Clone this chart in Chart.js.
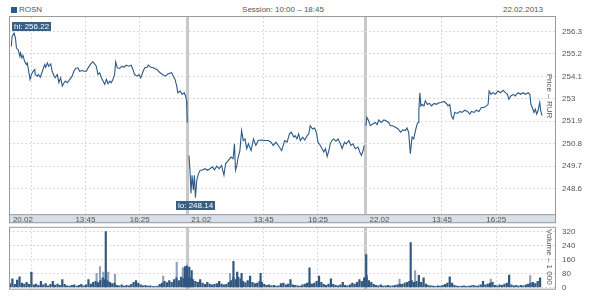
<!DOCTYPE html>
<html lang="ru">
<head>
<meta charset="utf-8">
<title>ROSN</title>
<script src="https://cdn.jsdelivr.net/npm/chart.js@4.4.1/dist/chart.umd.min.js"></script>
<style>
  html, body { margin: 0; padding: 0; background: #fff; }
  #wrap { position: relative; width: 600px; height: 301px; overflow: hidden;
          font-family: Arial, "Liberation Sans", sans-serif; color: #555; }
  .hdr  { position: absolute; top: 5px; font-size: 8px; line-height: 10px; white-space: nowrap; }
  #leg-box { position: absolute; left: 11px; top: 7px; width: 6px; height: 6px; background: #2e5a87; }
  #c-price { position: absolute; left: 0; top: 0; }
  #c-vol   { position: absolute; left: 0; top: 216px; }
</style>
</head>
<body>
<div id="wrap">
  <div id="leg-box"></div>
  <div class="hdr" style="left:19px">ROSN</div>
  <div class="hdr" style="left:0;width:566px;text-align:center">Session: 10:00 – 18:45</div>
  <div class="hdr" style="right:57px">22.02.2013</div>
  <canvas id="c-price" width="600" height="226"></canvas>
  <canvas id="c-vol" width="600" height="85"></canvas>
</div>
<script>
// ── Données ──────────────────────────────────────────────────────────────────
// minutes après 10:00 pour chaque séance (10:00 → 18:45 = 525 min)
const SESSION = 525;
const days = ["20.02", "21.02", "22.02"];

const d1Min = [7,9,15,19,22,27,32,34,38,41, 46,51,54,58,62,66,71,76,77,83, 87,92,95,100,105,108,113,117,123,127,
  133,136,142,147,152,157,162,166,172,179, 186,191,196,203,208,215,221,228,233,241, 247,252,257,262,267,272,277,282,287,292,
  297,301,306,311,314,319,326,333,339,345, 353,360,365,370,377,383,388,395,400,407, 410,418,425,435,445,452,460,469,479,484,
  489,494,497,504,510,516,520,523,524,525];
const d1Px = [255.57,256.06,256.22,255.98,255.49,255.41,255.08,255.25,255.01,255.13,
  254.84,254.68,254.76,254.35,253.95,254.19,254.35,254.44,254.19,254.11,
  254.19,254.06,254.19,254.44,254.68,254.55,254.76,254.60,254.71,254.35,
  254.11,254.03,254.19,253.79,254.03,253.62,253.79,253.87,253.79,253.95,
  254.11,254.35,254.49,254.52,254.35,254.39,254.35,254.35,254.52,254.71,
  254.81,254.71,254.60,254.19,254.28,254.03,253.87,253.71,253.95,253.74,
  253.87,253.79,253.95,254.19,254.81,254.52,254.49,254.60,254.55,254.65,
  254.60,254.65,254.44,254.19,254.11,254.19,254.03,254.35,254.52,254.55,
  254.65,254.55,254.52,254.44,254.28,254.19,254.11,254.23,254.28,254.11,
  253.95,253.62,253.30,253.38,253.22,253.30,253.14,252.90,252.41,251.84];

const d2Min = [5,8,11,14,18,21,24,28,33,38, 44,52,60,67,74,80,87,94,101,108, 113,121,129,135,139,142,146,150,155,160,
  165,170,175,180,188,195,202,209,219,229, 239,247,253,261,268,278,287,294,301,306, 314,318,323,328,333,340,346,353,358,362,
  369,375,380,385,392,397,402,407,412,417, 421,426,431,438,444,451,456,463,468,476, 482,488,495,503,508,513,518,521];
const d2Px = [250.22,249.49,248.36,249.25,248.52,249.25,248.14,249.00,249.33,249.49,
  249.49,249.57,249.49,249.57,249.66,249.52,249.69,249.57,249.73,249.25,
  249.82,249.98,250.14,250.06,250.79,249.49,249.73,250.14,250.46,251.44,
  250.95,251.03,250.55,250.79,250.46,251.03,250.71,250.95,250.98,250.95,
  250.95,250.87,250.71,250.87,250.71,250.46,250.95,250.87,251.28,251.36,
  251.12,251.19,251.03,251.28,250.95,251.12,250.98,251.19,251.28,251.68,
  251.52,251.57,251.36,250.87,250.71,250.55,250.39,250.55,250.17,250.46,
  250.79,250.95,251.03,250.92,251.03,250.79,250.55,250.87,250.79,250.95,
  250.71,250.79,250.55,250.63,250.39,250.22,250.46,250.71];

const d3Min = [1,4,9,14,21,29,34,39,46,54, 60,68,73,80,88,96,103,110,117,122, 127,132,137,142,147,152,155,157,160,163,
  166,172,176,182,189,194,202,209,216,223, 231,238,243,248,253,258,263,271,278,284, 292,300,307,312,320,326,334,341,349,356,
  361,364,369,376,382,390,398,405,412,418, 422,428,435,441,449,457,464,471,479,484, 487,491,496,500,504,508,513,516,520];
const d3Px = [251.68,252.09,251.92,251.68,251.76,251.84,251.73,251.96,251.84,251.96,
  251.92,251.84,251.68,251.68,251.60,251.52,251.36,251.47,251.44,251.57,
  251.36,250.30,251.12,251.03,251.44,251.76,251.84,252.41,253.30,252.65,
  252.73,252.65,252.90,252.73,252.77,252.65,252.77,252.73,252.80,252.82,
  252.87,252.77,252.65,252.73,252.17,252.01,252.33,252.28,252.38,252.33,
  252.44,252.38,252.25,252.38,252.33,252.44,252.38,252.57,252.57,252.65,
  252.73,253.38,253.22,253.30,253.22,253.38,253.30,253.42,253.30,253.22,
  252.98,253.14,253.22,253.14,253.30,253.22,253.30,253.22,253.30,253.22,
  252.73,252.57,252.33,252.49,252.25,252.41,252.82,252.41,252.17];

// volume (milliers), une barre toutes les 7 minutes
const VOL_STEP = 7;
const d1Vol = [22,50,18,42,62,25,20,30,18,88, 15,20,12,35,15,22,10,18,35,14, 20,12,45,18,10,8,12,15,8,12,
  18,10,15,46,20,30,35,28,40,55, 45,38,30,22,25,12,10,15,8,12, 10,18,30,40,25,15,10,12,8,10,
  6,5,8,18,25,35,28,40,30,45, 55,40,60,50,65];
const d2Vol = [60,55,45,35,30,45,25,18,30,20, 15,18,22,35,20,15,18,30,40,55, 45,60,50,35,28,40,65,30,22,25,
  35,30,18,12,15,10,12,8,10,22, 25,15,20,45,15,12,10,8,15,20, 25,30,20,25,35,65,30,18,12,20,
  50,18,12,10,15,30,12,10,15,25, 20,30,45,35,55];
const d3Vol = [60,40,30,18,12,10,15,8,10,12, 8,10,12,15,20,18,25,30,35,40, 30,35,70,30,55,20,12,10,8,6,
  10,8,12,18,25,62,25,12,8,6, 8,10,6,8,10,12,8,10,15,35, 15,20,25,30,12,10,15,12,20,25,
  72,15,10,12,8,12,10,15,20,25, 30,22,35,55];
// pics de volume : [séance, minute, volume]
const volPeaksDark = [[0,285,322],[0,518,121],[0,524,125],[1,6,118],[1,13,97],[1,136,150],[1,147,89],
  [1,160,81],[1,216,81],[1,360,113],[2,2,189],[2,133,259]];
const volPeaksLight = [[0,258,81],[0,268,121],[0,278,89],[0,292,89],[0,312,76],[0,454,65],[0,494,146],
  [0,512,113],[1,126,82],[2,4,73],[2,100,48],[2,146,97],[2,369,48],[2,485,68]];

const priceTicks = [248.6, 249.7, 250.8, 251.9, 253, 254.1, 255.2, 256.3];
const volTicks   = [0, 80, 160, 240, 320];
const timeTicks  = [225, 385];          // 13:45, 16:25
const extraGrid  = [65];                // ligne seule sur la 1re séance

// ── Construction ─────────────────────────────────────────────────────────────
const LINE  = "#2e5a87";
const DARK  = "#2f5780";
const LIGHT = "#8da3bd";
const FRAME = "#9a9a9a";
const GRID  = "#dadada";
const SEP   = "#c8c8c8";

const toX = (d, m) => d * SESSION + m;
const fmtTime = m => `${10 + Math.floor(m / 60)}:${String(m % 60).padStart(2, "0")}`;

const pricePoints = [];
[[d1Min, d1Px], [d2Min, d2Px], [d3Min, d3Px]].forEach(([mins, px], d) => {
  mins.forEach((m, i) => pricePoints.push({ x: toX(d, m), y: px[i] }));
  if (d < 2) pricePoints.push({ x: toX(d, SESSION) + 1, y: null });
});

const volBase = [d1Vol, d2Vol, d3Vol].flatMap((arr, d) =>
  arr.map((v, k) => ({ x: toX(d, k * VOL_STEP + 3), y: v })));
const peaks = list => list.map(([d, m, v]) => ({ x: toX(d, m), y: v }));

const xTicks = [];
days.forEach((lbl, d) => {
  if (d > 0) xTicks.push({ value: toX(d, 0), label: "", kind: "sep" });
  xTicks.push({ value: toX(d, 41), label: lbl, kind: "date" });
  if (d === 0) extraGrid.forEach(m => xTicks.push({ value: m, label: "", kind: "grid" }));
  timeTicks.forEach(m => xTicks.push({ value: toX(d, m), label: fmtTime(m), kind: "grid" }));
});
xTicks.sort((a, b) => a.value - b.value);
const kindOf = v => (xTicks.find(t => t.value === v) || {}).kind;

const X_MAX = 1608;

Chart.defaults.font.family = 'Arial, "Liberation Sans", sans-serif';
Chart.defaults.font.size = 8;
Chart.defaults.color = "#555";

const xScale = (showLabels) => ({
  type: "linear",
  min: 0,
  max: X_MAX,
  offset: false,
  afterBuildTicks: ax => { ax.ticks = xTicks.map(t => ({ value: t.value })); },
  afterFit: ax => { ax.height = showLabels ? 9 : 0; },
  ticks: {
    display: showLabels, autoSkip: false, maxRotation: 0, minRotation: 0, padding: 1,
    callback: (v, i) => (xTicks[i] ? xTicks[i].label : ""),
  },
  grid: {
    offset: false,
    drawTicks: false,
    color: c => {
      const k = c.tick && kindOf(c.tick.value);
      return k === "sep" ? SEP : k === "grid" ? GRID : "rgba(0,0,0,0)";
    },
    lineWidth: c => (c.tick && kindOf(c.tick.value) === "sep" ? 3 : 1),
  },
  border: { display: false, dash: c => (c.tick && kindOf(c.tick.value) === "sep" ? [] : [2, 2]) },
});

const yScale = (ticks, min, max) => ({
  type: "linear",
  position: "right",
  min, max,
  afterBuildTicks: ax => { ax.ticks = ticks.map(v => ({ value: v })); },
  afterFit: ax => { ax.width = 45; },
  ticks: { padding: 7, callback: v => String(v) },
  grid: { drawTicks: false, color: GRID },
  border: { display: false, dash: [2, 2] },
});

function sideTitle(text, dy) {
  return {
    id: "sideTitle",
    afterDraw(chart) {
      const { ctx, chartArea: a } = chart;
      ctx.save();
      ctx.translate(a.right - 6, a.top + dy);
      ctx.rotate(Math.PI / 2);
      ctx.font = '8px Arial, "Liberation Sans", sans-serif';
      ctx.fillStyle = "#555";
      ctx.textAlign = "center";
      ctx.textBaseline = "middle";
      ctx.fillText(text, 0, 0);
      ctx.restore();
    },
  };
}

const priceFrame = {
  id: "priceFrame",
  beforeDraw(chart) {
    const { ctx, chartArea: a } = chart;
    ctx.save();
    ctx.fillStyle = "#d7dfe8";
    ctx.fillRect(a.left, a.bottom, a.right - a.left, 9);
    ctx.restore();
  },
  afterDraw(chart) {
    const { ctx, chartArea: a } = chart;
    ctx.save();
    ctx.strokeStyle = FRAME;
    ctx.lineWidth = 1;
    ctx.strokeRect(a.left + 0.5, a.top - 0.5, a.right - a.left, a.bottom - a.top + 9);
    ctx.beginPath();
    ctx.moveTo(a.left, a.bottom + 0.5);
    ctx.lineTo(a.right + 1, a.bottom + 0.5);
    ctx.stroke();
    ctx.restore();
  },
};

const volFrame = {
  id: "volFrame",
  afterDraw(chart) {
    const { ctx, chartArea: a } = chart;
    ctx.save();
    ctx.strokeStyle = FRAME;
    ctx.lineWidth = 1;
    ctx.strokeRect(a.left + 0.5, a.top - 0.5, a.right - a.left, a.bottom - a.top + 0.5);
    ctx.restore();
  },
};

// étiquettes hi / lo
const hiLo = {
  id: "hiLo",
  afterDatasetsDraw(chart) {
    const { ctx, chartArea: a, scales: { x, y } } = chart;
    const pts = pricePoints.filter(p => p.y != null);
    let hi = pts[0], lo = pts[0];
    pts.forEach(p => { if (p.y > hi.y) hi = p; if (p.y < lo.y) lo = p; });
    const tag = (text, p, above) => {
      ctx.font = '8px Arial, "Liberation Sans", sans-serif';
      const w = ctx.measureText(text).width + 4, h = 9;
      const px = x.getPixelForValue(p.x), py = y.getPixelForValue(p.y);
      const left = Math.min(Math.max(px - w / 2, a.left + 3), a.right - w - 3);
      const top = above ? py - 2.5 - h : py + 3;
      ctx.fillStyle = "#3a5f86";
      ctx.fillRect(Math.round(left), Math.round(top), Math.round(w), h);
      ctx.fillStyle = "#fff";
      ctx.textBaseline = "middle";
      ctx.fillText(text, Math.round(left) + 2, Math.round(top) + h / 2 + 0.5);
    };
    ctx.save();
    tag(`hi: ${hi.y.toFixed(2)}`, hi, true);
    tag(`lo: ${lo.y.toFixed(2)}`, lo, false);
    ctx.restore();
  },
};

const common = {
  responsive: false,
  animation: false,
  events: [],
  plugins: { legend: { display: false }, tooltip: { enabled: false } },
};

new Chart(document.getElementById("c-price"), {
  type: "line",
  data: {
    datasets: [{
      data: pricePoints,
      borderColor: LINE,
      borderWidth: 1.1,
      pointRadius: 0,
      tension: 0,
      spanGaps: false,
    }],
  },
  options: {
    ...common,
    layout: { padding: { left: 9, top: 17, right: 0, bottom: 1 } },
    scales: { x: xScale(true), y: yScale(priceTicks, 247.336, 257.015) },
  },
  plugins: [priceFrame, hiLo, sideTitle("Price – RUR", 79)],
});

new Chart(document.getElementById("c-vol"), {
  type: "bar",
  data: {
    datasets: [
      { data: peaks(volPeaksDark), backgroundColor: DARK, barThickness: 1.5, grouped: false, order: 1 },
      { data: volBase, backgroundColor: DARK, barThickness: 1.6, grouped: false, order: 2 },
      { data: peaks(volPeaksLight), backgroundColor: LIGHT, barThickness: 1.5, grouped: false, order: 3 },
    ],
  },
  options: {
    ...common,
    layout: { padding: { left: 9, top: 9, right: 0, bottom: 4 } },
    scales: { x: xScale(false), y: yScale(volTicks, -10, 344) },
  },
  plugins: [volFrame, sideTitle("Volume – 1 000", 29)],
});
</script>
</body>
</html>
